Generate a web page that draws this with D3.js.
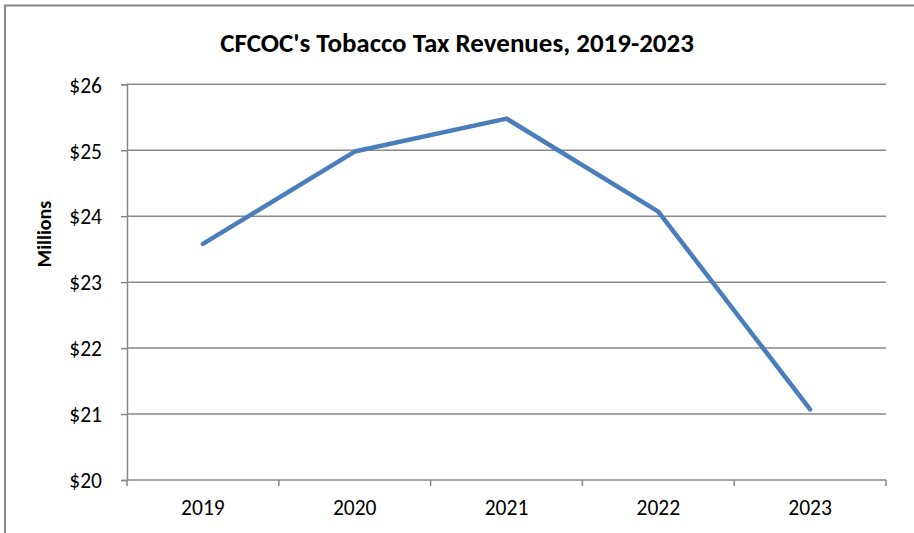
<!DOCTYPE html>
<html>
<head>
<meta charset="utf-8">
<script src="https://cdn.jsdelivr.net/npm/d3@7"></script>
<style>
  html, body { margin: 0; padding: 0; background: #fff; }
  svg { display: block; }
  text { font-family: Carlito, Calibri, "Open Sans", "Liberation Sans", sans-serif; fill: #000; }
</style>
</head>
<body>
<svg id="chart" width="914" height="533"></svg>
<script>
// Tobacco tax revenue, millions of dollars
const years = ["2019", "2020", "2021", "2022", "2023"];
const revenues = [23.58, 24.98, 25.48, 24.07, 21.07];
const yTicks = [20, 21, 22, 23, 24, 25, 26];
const titleText = "CFCOC's Tobacco Tax Revenues, 2019-2023";
const yAxisTitle = "Millions";

const svg = d3.select("#chart");
const W = 914, H = 533;
const plot = { left: 127, right: 886, top: 84.3, bottom: 480 };
const fontStack = 'Carlito, Calibri, "Open Sans", sans-serif';

// chart frame (open at right/bottom edges of the window)
svg.append("rect")
  .attr("x", 5).attr("y", 5.5)
  .attr("width", W + 10).attr("height", H + 10)
  .attr("fill", "#fff")
  .attr("stroke", "#878787").attr("stroke-width", 2);

const x = d3.scaleBand().domain(years).range([plot.left, plot.right]).padding(0);
const y = d3.scaleLinear().domain([20, 26]).range([plot.bottom, plot.top]);

// horizontal gridlines
svg.append("g")
  .selectAll("line")
  .data(yTicks.filter(d => d !== 20))
  .join("line")
  .attr("x1", plot.left).attr("x2", plot.right)
  .attr("y1", d => y(d)).attr("y2", d => y(d))
  .attr("stroke", "#878787").attr("stroke-width", 1.5);

// y axis
const yAxis = svg.append("g")
  .attr("transform", `translate(${plot.left},0)`)
  .call(d3.axisLeft(y).tickValues(yTicks).tickFormat(d => "$" + d).tickSize(6).tickPadding(19));
yAxis.select(".domain").attr("stroke", "#878787").attr("stroke-width", 1.5);
yAxis.selectAll(".tick line").attr("stroke", "#878787").attr("stroke-width", 1.5);
yAxis.selectAll(".tick text")
  .attr("font-size", 21.5).attr("fill", "#000")
  .style("font-family", fontStack)
  .attr("dy", "0.36em");

// x axis with ticks at category boundaries
const xAxisG = svg.append("g").attr("transform", `translate(0,${plot.bottom})`);
xAxisG.append("line")
  .attr("x1", plot.left).attr("x2", plot.right)
  .attr("y1", 0).attr("y2", 0)
  .attr("stroke", "#878787").attr("stroke-width", 1.5);
const bounds = years.map(d => x(d)).concat([x(years[years.length - 1]) + x.bandwidth()]);
xAxisG.selectAll("line.tk")
  .data(bounds)
  .join("line")
  .attr("class", "tk")
  .attr("x1", d => d).attr("x2", d => d)
  .attr("y1", 0).attr("y2", 6)
  .attr("stroke", "#878787").attr("stroke-width", 1.5);
xAxisG.selectAll("text")
  .data(years)
  .join("text")
  .attr("x", d => x(d) + x.bandwidth() / 2)
  .attr("y", 35)
  .attr("text-anchor", "middle")
  .attr("font-size", 21.5)
  .text(d => d);

// revenue line
const line = d3.line()
  .x((d, i) => x(years[i]) + x.bandwidth() / 2)
  .y(d => y(d));
svg.append("path")
  .datum(revenues)
  .attr("d", line)
  .attr("fill", "none")
  .attr("stroke", "#4a7ebb")
  .attr("stroke-width", 4.5)
  .attr("stroke-linejoin", "round")
  .attr("stroke-linecap", "round");

// title, fitted to its width
const title = svg.append("text")
  .attr("x", 457).attr("y", 52)
  .attr("text-anchor", "middle")
  .attr("font-size", 21)
  .attr("font-weight", "bold")
  .text(titleText);
const tw = title.node().getComputedTextLength();
title.attr("font-size", 21 * 474 / tw);

// y axis title
svg.append("text")
  .attr("transform", "translate(51,234) rotate(-90)")
  .attr("text-anchor", "middle")
  .attr("font-size", 20)
  .attr("font-weight", "bold")
  .text(yAxisTitle);
</script>
</body>
</html>
